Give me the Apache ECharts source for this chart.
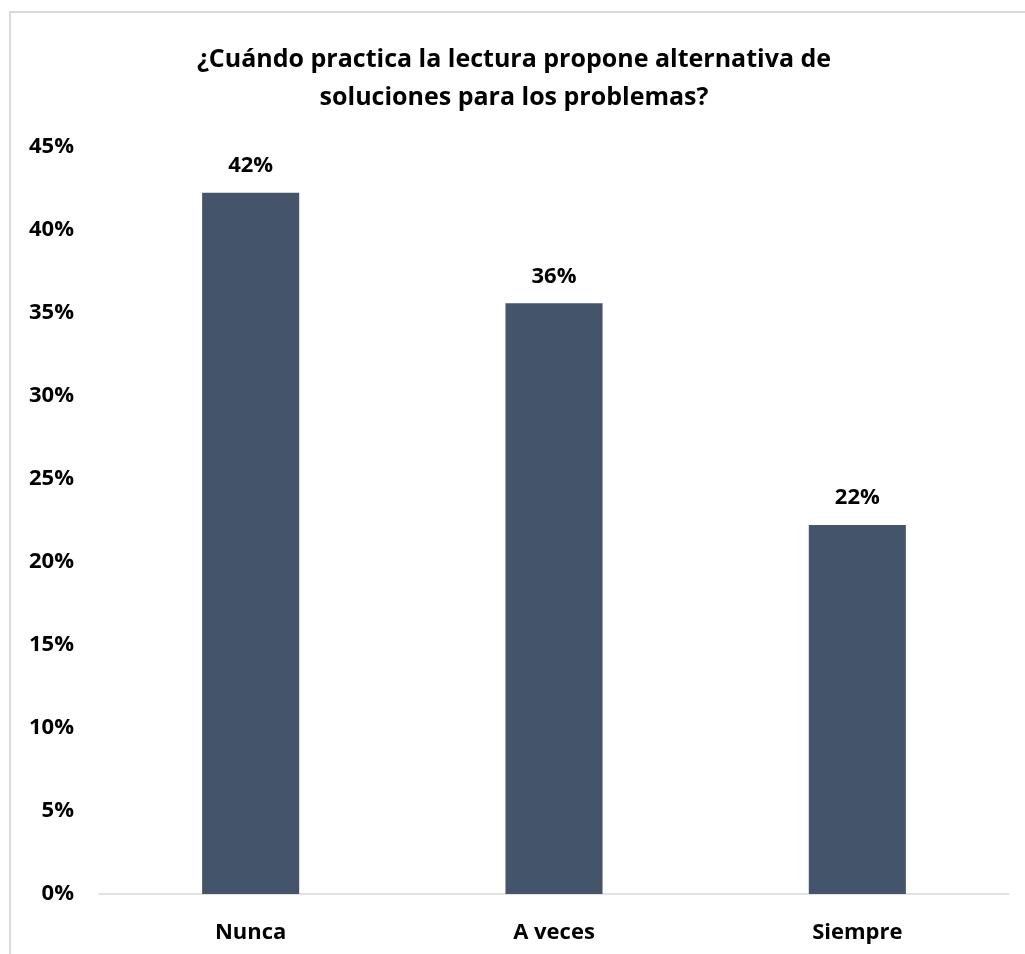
<!DOCTYPE html>
<html>
<head>
<meta charset="utf-8">
<script src="https://cdn.jsdelivr.net/npm/echarts@6/dist/echarts.min.js"></script>
<style>
html,body{margin:0;padding:0;background:#fff;}
#chart{width:1025px;height:954px;}
</style>
</head>
<body>
<div id="chart"></div>
<script>
const titleLines = ["¿Cuándo practica la lectura propone alternativa de", "soluciones para los problemas?"];
const categories = ["Nunca", "A veces", "Siempre"];
const values = [0.4222, 0.3556, 0.2222];
const yTicks = { min: 0, max: 0.45, interval: 0.05 };

const FONT = '"Open Sans", sans-serif';
const chart = echarts.init(document.getElementById('chart'), null, { renderer: 'canvas' });
chart.setOption({
  backgroundColor: '#ffffff',
  animation: false,
  graphic: [{
    type: 'rect',
    shape: { x: 10, y: 12, width: 1100, height: 1100 },
    style: { fill: 'none', stroke: '#d9d9d9', lineWidth: 2 },
    z: -1
  }],
  title: {
    text: titleLines.join('\n'),
    left: 509,
    top: 36,
    textAlign: 'center',
    textStyle: { fontFamily: FONT, fontWeight: 'bold', fontSize: 25, color: '#000', lineHeight: 38 }
  },
  grid: { left: 99, right: 16, top: 146.5, bottom: 60, containLabel: false },
  xAxis: {
    type: 'category',
    data: categories,
    axisLine: { lineStyle: { color: '#d9d9d9', width: 1.5 } },
    axisTick: { show: false },
    axisLabel: { margin: 28, fontFamily: FONT, fontWeight: 'bold', fontSize: 22, color: '#000' }
  },
  yAxis: {
    type: 'value',
    min: yTicks.min, max: yTicks.max, interval: yTicks.interval,
    axisLine: { show: false },
    axisTick: { show: false },
    splitLine: { show: false },
    axisLabel: {
      margin: 25, fontFamily: FONT, fontWeight: 'bold', fontSize: 22, color: '#000',
      formatter: v => Math.round(v * 100) + '%'
    }
  },
  series: [{
    type: 'bar',
    data: values,
    barWidth: '32%',
    itemStyle: { color: '#44546A' },
    label: {
      show: true, position: 'top', distance: 16,
      fontFamily: FONT, fontWeight: 'bold', fontSize: 22, color: '#000',
      formatter: p => Math.round(p.value * 100) + '%'
    }
  }]
});
</script>
</body>
</html>
